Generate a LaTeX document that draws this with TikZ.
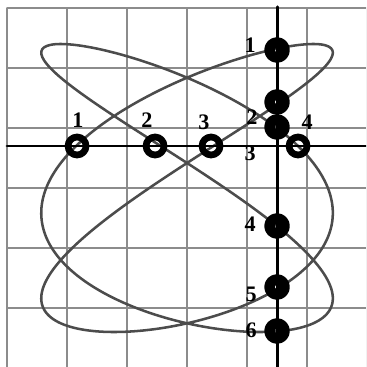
\documentclass[tikz,border=0pt]{standalone}
\usepackage{fontspec}
\setmainfont{Liberation Serif}
\definecolor{zzzzzz}{rgb}{0.55,0.55,0.55}
\definecolor{uuuuuu}{rgb}{0.3,0.3,0.3}
\tikzset{ring/.style={circle,draw=black,line width=3.2pt,inner sep=0pt,minimum size=0.3cm},
  vring/.style={ring,line width=5pt,minimum size=0.25cm},
  num/.style={font=\bfseries\fontsize{10.5}{12}\selectfont,inner sep=0pt}}
\begin{document}
\begin{tikzpicture}[line cap=round,line join=round,x=1.0cm,y=1.0cm]
\clip(-3.117,-2.983) rectangle (2.983,3.133);
\draw [color=zzzzzz, line width=0.8pt] (-3.,-3.) grid (3.,3.);
\draw [color=uuuuuu, line width=1.2pt, domain=0:360, samples=240, smooth, variable=\t] plot ({2.43*cos(3*\t)},{2.4*cos(2*\t-20)});
\draw [line width=1.4pt] (-3.,0.7)-- (3.1,0.7);
\draw [line width=1.4pt] (1.5,3.02)-- (1.5,-3.1);
% points on the x axis
\node [ring] (h1) at (-1.833,0.7) {};
\node [ring] (h2) at (-0.533,0.7) {};
\node [ring] (h3) at (0.4,0.7) {};
\node [ring] (h4) at (1.85,0.7) {};
\node [num] (lh1) at (-1.817,1.133) {1};
\node [num] (lh2) at (-0.667,1.133) {2};
\node [num] (lh3) at (0.283,1.1) {3};
\node [num] (lh4) at (2.,1.1) {4};
% points on the y axis
\node [vring] (v1) at (1.5,2.3) {};
\node [vring] (v2) at (1.5,1.433) {};
\node [vring] (v3) at (1.5,1.017) {};
\node [vring] (v4) at (1.5,-0.633) {};
\node [vring] (v5) at (1.5,-1.65) {};
\node [vring] (v6) at (1.5,-2.383) {};
\node [num] (lv1) at (1.05,2.383) {1};
\node [num] (lv2) at (1.083,1.183) {2};
\node [num] (lv3) at (1.05,0.583) {3};
\node [num] (lv4) at (1.05,-0.6) {4};
\node [num] (lv5) at (1.067,-1.767) {5};
\node [num] (lv6) at (1.067,-2.367) {6};
\end{tikzpicture}
\end{document}
